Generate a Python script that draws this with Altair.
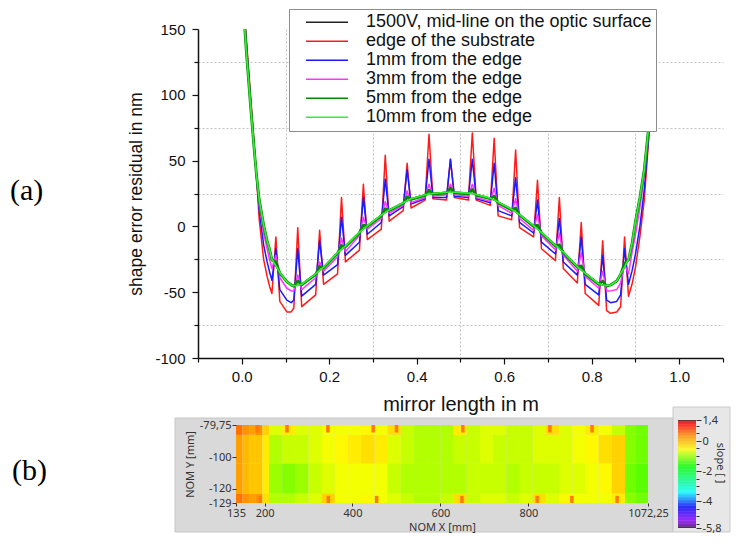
import altair as alt
import pandas as pd
import numpy as np

FONT = "Liberation Sans"
SERIF = "Liberation Serif"
PFONT = "Noto Sans"

# ---------------- (a) line chart data ----------------
SERIES = ["1500V, mid-line on the optic surface", "edge of the substrate",
          "1mm from the edge", "3mm from the edge", "5mm from the edge",
          "10mm from the edge"]
COLORS = ["#222222", "#ff1a1a", "#1a1aff", "#ff33ff", "#008a00", "#33ee33"]
WIDTHS = [1.5, 1.5, 1.5, 1.5, 2.8, 1.6]

X_POS = [0.000, 0.010, 0.020, 0.028, 0.034, 0.040, 0.050, 0.058, 0.064,
         0.069, 0.078, 0.087,
         0.103, 0.113,
         0.119, 0.128, 0.137,
         0.169, 0.178, 0.187,
         0.219, 0.228, 0.237,
         0.269, 0.278, 0.287,
         0.319, 0.328, 0.337,
         0.369, 0.378, 0.387,
         0.419, 0.428, 0.437,
         0.468, 0.477, 0.486,
         0.518, 0.527, 0.536,
         0.568, 0.577, 0.586,
         0.617, 0.626, 0.635,
         0.667, 0.676, 0.685,
         0.717, 0.726, 0.735,
         0.767, 0.776, 0.785,
         0.816, 0.825, 0.834,
         0.843, 0.857,
         0.866, 0.875, 0.884,
         0.892, 0.900, 0.910, 0.920, 0.930, 0.940, 0.950]

Y_GREEN = [185, 135, 92, 60, 38, 20, 1, -11, -18,
           -25, -30, -35,
           -42, -44.5,
           -45, -44.8, -44,
           -36, -33.5, -31,
           -20, -17.5, -15,
           -4.5, -2, 0.5,
           8.5, 10.5, 12.5,
           18, 19.5, 21,
           24, 24.5, 25,
           26, 26, 26,
           25.3, 25, 24.3,
           21.5, 20, 18.5,
           13, 11, 9,
           0.5, -2, -4.5,
           -14.5, -17, -19.5,
           -30.5, -33, -35.5,
           -43.5, -44.5, -45,
           -44.5, -41.5,
           -36, -31, -25,
           -13, 4, 22, 43, 75, 125, 178]

Y_BLACK = [185, 135, 92, 60, 38, 20, 1, -11, -18,
           -25, -30, -35,
           -42, -44.5,
           -45, -44.8, -44,
           -36, -33.5, -31,
           -20, -17.5, -15,
           -4.5, -2, 0.5,
           8.5, 10.5, 12.5,
           18, 19.5, 21,
           24, 24.5, 25,
           26, 26, 26,
           25.3, 25, 24.3,
           21.5, 20, 18.5,
           13, 11, 9,
           0.5, -2, -4.5,
           -14.5, -17, -19.5,
           -30.5, -33, -35.5,
           -43.5, -44.5, -45,
           -44.5, -41.5,
           -36, -31, -25,
           -13, 4, 22, 43, 75, 125, 178]

Y_RED = [190, 145, 100, 64, 36, 5, -25, -38, -46,
         -51, -8, -57,
         -65, -65,
         -62, -1, -61,
         -52, -3, -44,
         -36, 22, -27,
         -18, 32, -10,
         -2, 54, 4,
         12, 48, 14,
         20, 70, 21,
         20, 51, 22,
         20, 71, 20,
         16, 67, 8,
         5, 58, -1,
         -8, 35, -17,
         -26, 22, -32,
         -43, 3, -51,
         -60, -11, -64,
         -66, -65,
         -61, -8, -53,
         -44, -31, -8, 20, 66, 122, 178]

Y_BLUE = [188, 141, 96, 62, 37, 12, -14, -27, -35,
          -41, -17, -48,
          -56, -58,
          -56, -17, -53,
          -44, -11, -37,
          -29, 7, -22,
          -12, 22, -6,
          3, 36, 8,
          15, 43, 17,
          21, 51, 22,
          22, 51, 23,
          22, 51, 21,
          18, 48, 12,
          8, 37, 3,
          -5, 20, -12,
          -21, 6, -27,
          -37, -8, -44,
          -52, -22, -56,
          -58, -57,
          -52, -17, -44,
          -34, -21, 0, 28, 68, 123, 176]

Y_MAGENTA = [186, 138, 94, 61, 37, 16, -5, -17, -26,
             -32, -22, -39,
             -47, -49,
             -49, -37, -48,
             -39, -27, -34,
             -23, -9, -19,
             -7, 7, -2,
             6, 19, 10,
             16, 27, 18,
             22, 32, 23,
             24, 32, 24,
             23, 32, 22,
             19, 29, 16,
             10, 21, 6,
             -3, 9, -7,
             -18, -5, -22,
             -34, -20, -38,
             -47, -34, -49,
             -49, -48,
             -43, -29, -36,
             -20, -6, 14, 38, 72, 123, 174]

Y_DKGREEN = [185, 135, 92, 60, 38, 20, 1, -11, -18,
             -25.5, -27, -35.5,
             -42, -44.5,
             -45.5, -41.5, -44.5,
             -36.5, -30.5, -31.5,
             -20.5, -14.5, -15.5,
             -5, 1, 0,
             8, 13.5, 12,
             17.5, 22.5, 20.5,
             23.5, 27.5, 24.5,
             25.5, 29, 25.5,
             24.8, 28, 23.8,
             21, 23, 18,
             12.5, 14, 8.5,
             0, 1, -5,
             -15, -14, -20,
             -31, -30, -36,
             -44, -41.5, -45.5,
             -44.5, -41.5,
             -36.5, -28, -25.5,
             -13, 4, 22, 43, 75, 125, 178]

Y_ALL = [Y_BLACK, Y_RED, Y_BLUE, Y_MAGENTA, Y_DKGREEN, Y_GREEN]
for ys in Y_ALL:
    assert len(ys) == len(X_POS)

X_TICKS = [-0.1, 0.0, 0.1, 0.2, 0.3, 0.4, 0.5, 0.6, 0.7, 0.8, 0.9, 1.0, 1.1]
Y_TICKS = [-100, -75, -50, -25, 0, 25, 50, 75, 100, 125, 150]

# ---------------- (b) map data ----------------
HX = [135, 150, 165, 180, 195, 210, 240, 270, 300, 330, 360, 390, 420, 450,
      480, 510, 540, 570, 600, 630, 660, 690, 720, 750, 780, 810, 840, 870,
      900, 930, 960, 990, 1020, 1045, 1072.25]
HY = [-129, -123, -104, -86, -79.75]
HEAT = [
    [0.5, 0.3, 0.2, 0.3, -0.3, -0.9, -0.9, -0.8, -0.7, -0.2, -0.6, -0.6, -0.5, -0.6, -0.7, -0.8, -0.9,
     -0.9, -0.8, -0.3, -0.8, -0.7, -0.7, -0.8, -0.7, -0.3, -0.7, -0.5, -0.6, -0.6, -0.6, -0.4, -1.1, -1.2],
    [0.2, 0.0, -0.1, -0.1, -0.4, -1.0, -1.1, -1.0, -0.8, -0.7, -0.6, -0.6, -0.6, -0.6, -0.8, -0.9, -0.9,
     -0.9, -0.9, -0.9, -0.8, -0.8, -0.8, -0.9, -0.8, -0.8, -0.8, -0.7, -0.7, -0.6, -0.5, -0.2, -1.2, -1.3],
    [0.2, 0.0, -0.1, -0.1, -0.4, -0.9, -0.8, -0.8, -0.7, -0.6, -0.5, -0.4, -0.3, -0.4, -0.7, -0.8, -0.9,
     -0.9, -0.9, -0.8, -0.8, -0.7, -0.8, -0.8, -0.8, -0.7, -0.7, -0.7, -0.6, -0.5, -0.3, -0.2, -1.1, -1.2],
    [0.5, 0.3, 0.2, 0.3, -0.2, -0.7, -0.4, -0.7, -0.7, -0.6, -0.6, -0.6, -0.5, -0.6, -0.3, -0.8, -0.9,
     -0.9, -0.9, -0.4, -0.8, -0.7, -0.7, -0.8, -0.8, -0.7, -0.3, -0.7, -0.6, -0.4, -0.6, -0.8, -1.1, -1.2],
]
SPOT_TOP_X = [183, 251, 344, 447, 500, 651, 849, 945]
SPOT_BOT_X = [140, 190, 345, 455, 649, 820, 899, 1002]
SPOT_V = 0.45

CS_DOMAIN = [-5.8, -5.65, -5.3, -4.4, -3.4, -1.7, -0.55, 0.35, 1.15, 1.32, 1.4]
CS_RANGE = ["#101010", "#5a0090", "#8a00ff", "#0000ff", "#00ffff", "#00ff00",
            "#ffff00", "#ff8c00", "#ff0000", "#c00000", "#101010"]
CB_TICKS = [1.4, 1.0, 0.5, 0, -0.5, -1, -1.5, -2, -2.5, -3, -3.5, -4, -4.5, -5, -5.5, -5.8]

# ---------------- (a) chart ----------------
x_axis = alt.Axis(
    values=X_TICKS,
    labelExpr="(round(datum.value*10) % 2 == 0) ? format(datum.value, '.1f') : ''",
    tickSize={"condition": {"test": "round(datum.value*10) % 2 == 0", "value": 6}, "value": 4},
    grid=True,
    gridOpacity={"condition": {"test": "round(datum.value*10) % 2 != 0 && datum.value > -0.05 && datum.value < 1.05",
                               "value": 1}, "value": 0},
    gridDash=[2, 2], gridColor="#c4c4c4", gridWidth=1,
    domainColor="#111111", domainWidth=1.5, tickColor="#111111", tickWidth=1.2,
    labelFont=FONT, labelFontSize=15, labelColor="#111111", labelPadding=5,
    labelFlush=False, labelOverlap=False,
    titleFont=FONT, titleFontSize=20, titleFontWeight="normal", titleColor="#111111",
    titlePadding=10,
)
y_axis = alt.Axis(
    values=Y_TICKS,
    labelExpr="(datum.value % 50 == 0) ? ('' + datum.value) : ''",
    tickSize={"condition": {"test": "datum.value % 50 == 0", "value": 6}, "value": 4},
    grid=True,
    gridOpacity={"condition": {"test": "datum.value % 50 != 0", "value": 1}, "value": 0},
    gridDash=[2, 2], gridColor="#c4c4c4", gridWidth=1,
    domainColor="#111111", domainWidth=1.5, tickColor="#111111", tickWidth=1.2,
    labelFont=FONT, labelFontSize=15, labelColor="#111111", labelPadding=7,
    labelFlush=False, labelOverlap=False,
    titleFont=FONT, titleFontSize=17.5, titleFontWeight="normal", titleColor="#111111",
    titlePadding=9,
)
legend = alt.Legend(
    title=None, orient="none", legendX=91, legendY=-20, direction="vertical",
    symbolType="stroke", symbolSize=1764, symbolStrokeWidth=1.6, clipHeight=18.6,
    rowPadding=0, padding=4, symbolOffset=12, labelOffset=17,
    labelFont=FONT, labelFontSize=18, labelColor="#111111", labelLimit=500,
    strokeColor="#8c8c8c", fillColor="white",
)

x_enc = alt.X("x:Q", scale=alt.Scale(domain=[-0.1, 1.1], nice=False, zero=False),
              axis=x_axis, title="mirror length in m")
y_enc = alt.Y("y:Q", scale=alt.Scale(domain=[-100, 150], nice=False, zero=False),
              axis=y_axis, title="shape error residual in nm")
c_enc = alt.Color("s:N", scale=alt.Scale(domain=SERIES, range=COLORS), legend=legend)

layers = []
for name, ys, w in zip(SERIES, Y_ALL, WIDTHS):
    df = pd.DataFrame({"x": X_POS, "y": ys, "s": name})
    layers.append(
        alt.Chart(df).mark_line(clip=True, strokeWidth=w, strokeJoin="round").encode(
            x=x_enc, y=y_enc, color=c_enc)
    )

a_txt = alt.Chart(pd.DataFrame({"t": ["(a)"]})).mark_text(
    align="left", baseline="middle", font=SERIF, fontSize=30, color="black"
).encode(x=alt.value(-188), y=alt.value(162), text="t:N")

top = alt.layer(*layers, a_txt).properties(width=525, height=329)

# ---------------- (b) chart ----------------
rows = []
for r in range(len(HY) - 1):
    for c in range(len(HX) - 1):
        rows.append({"x0": HX[c], "x1": HX[c + 1], "y0": HY[r], "y1": HY[r + 1], "v": HEAT[r][c]})
for xc in SPOT_TOP_X:
    rows.append({"x0": xc - 4, "x1": xc + 4, "y0": -84.5, "y1": -79.75, "v": SPOT_V})
for xc in SPOT_BOT_X:
    rows.append({"x0": xc - 4, "x1": xc + 4, "y0": -129, "y1": -124.5, "v": SPOT_V})
heat_df = pd.DataFrame(rows)

lo = np.round(np.arange(-5.8, 1.4, 0.05), 3)
cb_df = pd.DataFrame({"lo": lo, "hi": np.round(lo + 0.05, 3), "v": lo + 0.025})

cscale = alt.Scale(domain=CS_DOMAIN, range=CS_RANGE, type="linear", interpolate="rgb")
comma = "replace('' + datum.value, '.', ',')"

one = pd.DataFrame({"a": [0]})
panel = alt.Chart(one).mark_rect(fill="#d9d9d9", stroke="#c6c6c6", strokeWidth=1).encode(
    x=alt.value(-23), x2=alt.value(475), y=alt.value(7), y2=alt.value(121))
cbpanel = alt.Chart(one).mark_rect(fill="#e7e7e7", stroke="#c9c9c9", strokeWidth=1).encode(
    x=alt.value(475), x2=alt.value(532), y=alt.value(-4), y2=alt.value(121))

heat = alt.Chart(heat_df).mark_rect(stroke=None, strokeWidth=0).encode(
    x=alt.X("x0:Q", scale=alt.Scale(domain=[135, 1072.25], range=[38, 450], nice=False, zero=False),
            axis=alt.Axis(values=[135, 200, 400, 600, 800, 1072.25], labelExpr=comma, zindex=2,
                          grid=False, domain=False, tickSize=3, tickColor="#333333",
                          labelFont=PFONT, labelFontSize=11, labelColor="#333333", labelPadding=1,
                          labelFlush=False, labelOverlap=False,
                          titleFont=PFONT, titleFontSize=11, titleFontWeight="normal",
                          titleColor="#333333", titlePadding=3),
            title="NOM X [mm]"),
    x2="x1:Q",
    y=alt.Y("y0:Q", scale=alt.Scale(domain=[-129, -79.75], range=[92, 14], nice=False, zero=False),
            axis=alt.Axis(orient="left", offset=-38, values=[-129, -120, -100, -79.75], labelExpr=comma,
                          zindex=2, grid=False, domain=False, tickSize=4, tickColor="#333333",
                          labelFont=PFONT, labelFontSize=11, labelColor="#333333", labelPadding=1,
                          labelFlush=False, labelOverlap=False,
                          titleFont=PFONT, titleFontSize=11, titleFontWeight="normal",
                          titleColor="#333333", titlePadding=4),
            title="NOM Y [mm]"),
    y2="y1:Q",
    color=alt.Color("v:Q", scale=cscale, legend=None),
)

cb_test = "indexof([1.4, 0, -2, -4, -5.8], datum.value) >= 0"
cbar = alt.Chart(cb_df).mark_rect(stroke=None, strokeWidth=0).encode(
    x=alt.value(480), x2=alt.value(498),
    y=alt.Y("lo:Q", scale=alt.Scale(domain=[-5.8, 1.4], range=[117, 9], nice=False, zero=False),
            axis=alt.Axis(orient="right", values=CB_TICKS, zindex=2, grid=False,
                          labelExpr=cb_test + " ? " + comma + " : ''",
                          tickSize={"condition": {"test": cb_test, "value": 5}, "value": 3},
                          domain=False, tickColor="#333333",
                          labelFont=PFONT, labelFontSize=11, labelColor="#333333", labelPadding=1,
                          labelFlush=False, labelOverlap=False, title=None)),
    y2="hi:Q",
    color=alt.Color("v:Q", scale=cscale, legend=None),
)

slope_txt = alt.Chart(pd.DataFrame({"t": ["slope [ ]"]})).mark_text(
    align="center", baseline="middle", angle=90, font=PFONT, fontSize=11, color="#333333"
).encode(x=alt.value(522), y=alt.value(52), text="t:N")

b_txt = alt.Chart(pd.DataFrame({"t": ["(b)"]})).mark_text(
    align="left", baseline="middle", font=SERIF, fontSize=30, color="black"
).encode(x=alt.value(-186), y=alt.value(60), text="t:N")

bottom = alt.layer(panel, cbpanel, heat, cbar, slope_txt, b_txt).resolve_scale(
    y="independent").properties(width=498, height=92)

chart = alt.vconcat(top, bottom, spacing=53, bounds="flush").resolve_scale(
    color="independent", x="independent", y="independent"
).properties(
    padding={"left": 2, "top": 0, "right": 0, "bottom": 0}
).configure(font=FONT).configure_view(stroke=None)

chart.save("out.html", embed_options={"renderer": "svg", "actions": False})
